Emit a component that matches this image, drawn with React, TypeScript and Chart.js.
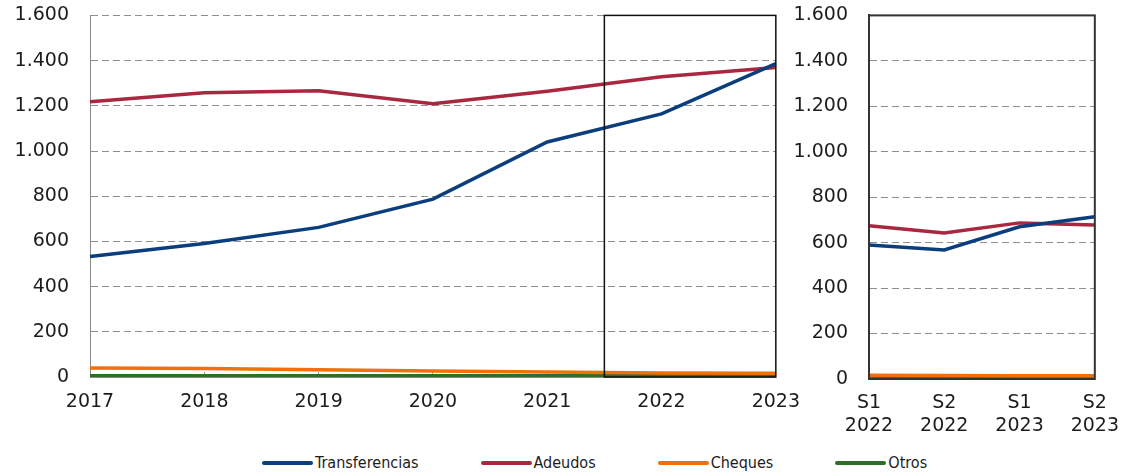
import React, { useEffect, useRef } from 'react';
import { Chart, registerables } from 'chart.js';

Chart.register(...registerables);

// ---- Data ----
const years = ['2017', '2018', '2019', '2020', '2021', '2022', '2023'];
const transferenciasAnual = [533, 591, 662, 787, 1040, 1164, 1387];
const adeudosAnual = [1218, 1258, 1267, 1209, 1264, 1329, 1369];
const chequesAnual = [40, 38, 32, 27, 22, 18, 17];
const otrosAnual = [6, 6, 6, 6, 6, 6, 6];

const semesters = [['S1', '2022'], ['S2', '2022'], ['S1', '2023'], ['S2', '2023']];
const transferenciasSem = [590, 568, 670, 714];
const adeudosSem = [674, 643, 687, 678];
const chequesSem = [16, 15, 14, 14];
const otrosSem = [3, 3, 3, 3];

const seriesNames = ['Transferencias', 'Adeudos', 'Cheques', 'Otros'];
const seriesColors = ['#0b3e7c', '#a9283f', '#f26f0c', '#2d6f27'];

const highlightFrom = 4.5;
const highlightTo = 6;
const yMax = 1600;
const yStep = 200;

const FONT = '"DejaVu Sans", "Liberation Sans", sans-serif';
const TEXT = '#1c1c1c';

const fmt = (v: number) => String(v).replace(/\B(?=(\d{3})+(?!\d))/g, '.');

function makeDatasets(values: number[][]) {
  return values.map((d, i) => ({
    label: seriesNames[i],
    data: d,
    borderColor: seriesColors[i],
    backgroundColor: seriesColors[i],
    borderWidth: 3.5,
    pointRadius: 0,
    tension: 0,
    fill: false,
  }));
}

function baseOptions(
  yWidth: number,
  xHeight: number,
  xPad: number,
  padding: any,
  axisColor: string,
  axisWidth: number
) {
  return {
    responsive: false,
    animation: false as const,
    maintainAspectRatio: false,
    layout: { padding },
    plugins: { legend: { display: false }, tooltip: { enabled: false } },
    scales: {
      x: {
        offset: false,
        grid: {
          display: true,
          drawOnChartArea: false,
          drawTicks: true,
          tickLength: -5,
          color: '#9a9a9a',
        },
        border: { display: true, color: axisColor, width: axisWidth },
        ticks: {
          color: TEXT,
          font: { family: FONT, size: 19 },
          padding: xPad,
          maxRotation: 0,
          autoSkip: false,
        },
        afterFit: (s: any) => {
          s.height = xHeight;
        },
      },
      y: {
        min: 0,
        max: yMax,
        ticks: {
          stepSize: yStep,
          color: TEXT,
          font: { family: FONT, size: 19 },
          padding: 21,
          callback: (v: any) => fmt(Number(v)),
        },
        grid: { color: '#8f8f8f', lineWidth: 1, drawTicks: false },
        border: { display: true, color: axisColor, width: axisWidth, dash: [7, 4] },
        afterFit: (s: any) => {
          s.width = yWidth;
        },
      },
    },
  };
}

export default function App() {
  const leftRef = useRef<HTMLCanvasElement>(null);
  const rightRef = useRef<HTMLCanvasElement>(null);

  useEffect(() => {
    document.body.style.margin = '0';
    const highlightPlugin = {
      id: 'highlightBox',
      afterDatasetsDraw(chart: any) {
        const { ctx, chartArea, scales } = chart;
        const x1 = scales.x.getPixelForValue(highlightFrom);
        const x2 = scales.x.getPixelForValue(highlightTo);
        ctx.save();
        ctx.strokeStyle = '#111';
        ctx.lineWidth = 1.5;
        ctx.strokeRect(x1, chartArea.top, x2 - x1, chartArea.bottom - chartArea.top);
        ctx.restore();
      },
    };
    const boxPlugin = {
      id: 'frameBox',
      afterDatasetsDraw(chart: any) {
        const { ctx, chartArea } = chart;
        ctx.save();
        ctx.strokeStyle = '#333';
        ctx.lineWidth = 2;
        ctx.strokeRect(chartArea.left, chartArea.top, chartArea.right - chartArea.left, chartArea.bottom - chartArea.top);
        ctx.restore();
      },
    };

    const left = new Chart(leftRef.current as HTMLCanvasElement, {
      type: 'line',
      data: {
        labels: years,
        datasets: makeDatasets([transferenciasAnual, adeudosAnual, chequesAnual, otrosAnual]) as any,
      },
      options: baseOptions(90, 65, 19, { top: 15, right: 5, left: 0, bottom: 0 }, '#8a8a8a', 1) as any,
      plugins: [highlightPlugin],
    });
    const right = new Chart(rightRef.current as HTMLCanvasElement, {
      type: 'line',
      data: {
        labels: semesters as any,
        datasets: makeDatasets([transferenciasSem, adeudosSem, chequesSem, otrosSem]) as any,
      },
      options: baseOptions(99, 62, 18, { top: 16, right: 15, left: 0, bottom: 0 }, '#333', 2) as any,
      plugins: [boxPlugin],
    });
    return () => {
      left.destroy();
      right.destroy();
    };
  }, []);

  return (
    <div style={{ position: 'relative', width: 1126, height: 476, background: '#fff', overflow: 'hidden' }}>
      <canvas ref={leftRef} width={819} height={459} style={{ position: 'absolute', left: 0, top: -17 }} />
      <canvas ref={rightRef} width={367} height={458} style={{ position: 'absolute', left: 770, top: -17 }} />
      <div
        style={{
          position: 'absolute',
          left: 262,
          top: 453,
          display: 'flex',
          alignItems: 'center',
          gap: 62,
          fontFamily: '"Liberation Sans Narrow", "DejaVu Sans Condensed", "Liberation Sans", sans-serif',
          fontSize: 16,
          color: TEXT,
          whiteSpace: 'nowrap',
        }}
      >
        {seriesNames.map((n, i) => (
          <div key={n} style={{ display: 'flex', alignItems: 'center' }}>
            <span style={{ display: 'inline-block', width: 51, height: 4, borderRadius: 2, background: seriesColors[i], marginRight: 2 }} />
            <span>{n}</span>
          </div>
        ))}
      </div>
    </div>
  );
}
